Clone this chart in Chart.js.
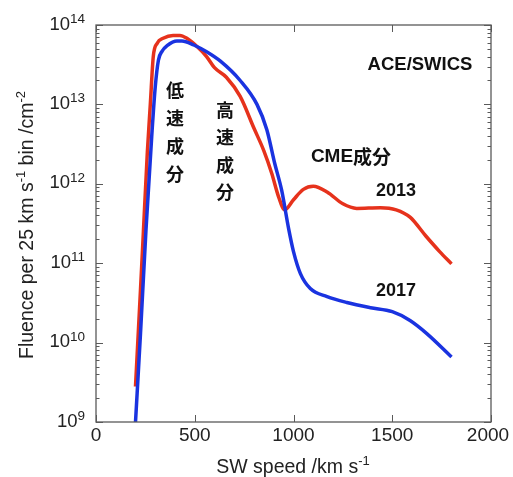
<!DOCTYPE html>
<html>
<head>
<meta charset="utf-8">
<script src="https://cdn.jsdelivr.net/npm/chart.js@4"></script>
<style>
  html, body { margin: 0; padding: 0; background: #fff; }
  #wrap { width: 513px; height: 477px; }
</style>
</head>
<body>
<div id="wrap"><canvas id="chart" width="513" height="477"></canvas></div>
<script>
// solar wind speed bins (km/s) and fluence per 25 km/s bin (/cm^2)
const speed2013 = [200, 225, 240, 260, 275, 290, 310, 340, 390, 425, 460, 510, 560, 600, 660, 730, 800, 850, 890, 925, 955, 1000, 1050, 1100, 1170, 1250, 1320, 1440, 1520, 1590, 1670, 1740, 1800];
const fluence2013 = [2.8e9, 4.5e10, 2.5e11, 2.5e12, 1.0e13, 4.0e13, 5.9e13, 6.8e13, 7.4e13, 7.4e13, 6.8e13, 5.4e13, 4.0e13, 2.9e13, 2.2e13, 1.26e13, 5.0e12, 2.6e12, 1.35e12, 6.8e11, 4.7e11, 6.3e11, 8.5e11, 9.3e11, 7.9e11, 5.6e11, 4.9e11, 5.0e11, 4.7e11, 3.8e11, 2.2e11, 1.4e11, 9.8e10];

const speed2017 = [200, 225, 253, 282, 300, 316, 335, 360, 410, 435, 495, 560, 630, 730, 815, 865, 905, 940, 975, 1000, 1035, 1085, 1170, 1270, 1390, 1500, 1590, 1675, 1800];
const fluence2017 = [1.0e9, 1.26e10, 2.6e11, 3.9e12, 1.66e13, 3.6e13, 4.7e13, 5.5e13, 6.3e13, 6.3e13, 5.6e13, 4.6e13, 3.5e13, 2.0e13, 1.0e13, 4.8e12, 1.8e12, 8.3e11, 2.75e11, 1.4e11, 7.4e10, 4.8e10, 3.8e10, 3.2e10, 2.75e10, 2.45e10, 1.9e10, 1.3e10, 6.6e9];

const xTicks = [0, 500, 1000, 1500, 2000];
const yExponents = [9, 10, 11, 12, 13, 14];

const FONT = '"Liberation Sans", Arial, sans-serif';
const CJK = '"Noto Sans CJK JP", "Noto Sans CJK SC", sans-serif';

function toPoints(xs, ys) {
  return xs.map((x, i) => ({ x: x, y: ys[i] }));
}

// text made of normal / superscript pieces
function richWidth(ctx, parts, size, supSize) {
  let w = 0;
  parts.forEach(p => {
    ctx.font = (p.sup ? supSize : size) + 'px ' + FONT;
    w += ctx.measureText(p.t).width;
  });
  return w;
}
function drawRich(ctx, parts, x, y, size, supSize, rise) {
  parts.forEach(p => {
    ctx.font = (p.sup ? supSize : size) + 'px ' + FONT;
    ctx.fillText(p.t, x, p.sup ? y - rise : y);
    x += ctx.measureText(p.t).width;
  });
}

const axesPlugin = {
  id: 'axesBox',
  afterDraw(chart) {
    const { ctx, chartArea: a, scales: { x, y } } = chart;
    ctx.save();
    ctx.strokeStyle = '#5a5a5a';
    ctx.lineWidth = 1.3;
    ctx.strokeRect(a.left, a.top, a.right - a.left, a.bottom - a.top);

    ctx.lineWidth = 1;
    ctx.beginPath();
    xTicks.forEach(v => {
      const px = Math.round(x.getPixelForValue(v)) + 0.5;
      ctx.moveTo(px, a.bottom); ctx.lineTo(px, a.bottom - 7);
      ctx.moveTo(px, a.top); ctx.lineTo(px, a.top + 7);
    });
    yExponents.forEach(e => {
      for (let m = 1; m <= 9; m++) {
        if (e === 14 && m > 1) break;
        const py = Math.round(y.getPixelForValue(m * Math.pow(10, e))) + 0.5;
        const len = m === 1 ? 7 : 3.5;
        ctx.moveTo(a.left, py); ctx.lineTo(a.left + len, py);
        ctx.moveTo(a.right, py); ctx.lineTo(a.right - len, py);
      }
    });
    ctx.stroke();

    ctx.fillStyle = '#222';
    ctx.textBaseline = 'alphabetic';
    // x tick labels (last one pulled in so it fits)
    ctx.font = '19px ' + FONT;
    ctx.textAlign = 'center';
    xTicks.forEach((v, i) => {
      const shift = i === xTicks.length - 1 ? -3 : 0;
      ctx.fillText(String(v), x.getPixelForValue(v) + shift, a.bottom + 19);
    });
    // y tick labels 10^n
    ctx.textAlign = 'left';
    yExponents.forEach(e => {
      const py = y.getPixelForValue(Math.pow(10, e));
      const parts = [{ t: '10' }, { t: String(e), sup: true }];
      const w = richWidth(ctx, parts, 18.5, 13.5);
      drawRich(ctx, parts, 85 - w, py + 4.5, 18.5, 13.5, 6.5);
    });

    // axis titles
    const xt = [{ t: 'SW speed /km s' }, { t: '-1', sup: true }];
    const xw = richWidth(ctx, xt, 19.5, 13);
    drawRich(ctx, xt, 293 - xw / 2, 473, 19.5, 13, 8);

    const yt = [{ t: 'Fluence per 25 km s' }, { t: '-1', sup: true }, { t: ' bin /cm' }, { t: '-2', sup: true }];
    const yw = richWidth(ctx, yt, 19.5, 13);
    ctx.save();
    ctx.translate(33, 225);
    ctx.rotate(-Math.PI / 2);
    drawRich(ctx, yt, -yw / 2, 0, 19.5, 13, 8);
    ctx.restore();

    // annotations
    ctx.fillStyle = '#111';
    ctx.textAlign = 'center';
    ctx.textBaseline = 'middle';
    ctx.font = 'bold 18.5px ' + FONT;
    ctx.fillText('ACE/SWICS', 420, 65);
    ctx.font = 'bold 18px ' + FONT;
    ctx.fillText('2013', 396, 191);
    ctx.fillText('2017', 396, 291);

    const cme = 'CME';
    ctx.textAlign = 'left';
    ctx.font = 'bold 19px ' + FONT;
    const cw = ctx.measureText(cme).width;
    ctx.font = 'bold 19px ' + CJK;
    const kw = ctx.measureText('成分').width;
    const sx = 351 - (cw + kw) / 2;
    ctx.font = 'bold 19px ' + FONT;
    ctx.fillText(cme, sx, 157);
    ctx.font = 'bold 19px ' + CJK;
    ctx.fillText('成分', sx + cw, 157);

    ctx.textAlign = 'center';
    ctx.font = 'bold 18px ' + CJK;
    ['低', '速', '成', '分'].forEach((c, i) => ctx.fillText(c, 175, 90 + i * 28));
    ['高', '速', '成', '分'].forEach((c, i) => ctx.fillText(c, 225, 110 + i * 27.5));
    ctx.restore();
  }
};

new Chart(document.getElementById('chart'), {
  type: 'line',
  data: {
    datasets: [
      {
        label: '2017',
        data: toPoints(speed2017, fluence2017),
        borderColor: '#1a33e0',
        borderWidth: 3.5,
        pointRadius: 0,
        cubicInterpolationMode: 'monotone',
        fill: false
      },
      {
        label: '2013',
        data: toPoints(speed2013, fluence2013),
        borderColor: '#e6321c',
        borderWidth: 3.5,
        pointRadius: 0,
        cubicInterpolationMode: 'monotone',
        fill: false
      }
    ]
  },
  options: {
    responsive: false,
    animation: false,
    layout: { padding: { top: 25, right: 22, left: 0, bottom: 0 } },
    plugins: { legend: { display: false }, tooltip: { enabled: false } },
    scales: {
      x: {
        type: 'linear', min: 0, max: 2000,
        grid: { display: false }, border: { display: false },
        ticks: { display: false },
        afterFit: s => { s.height = 55; }
      },
      y: {
        type: 'logarithmic', min: 1e9, max: 1e14,
        grid: { display: false }, border: { display: false },
        ticks: { display: false },
        afterFit: s => { s.width = 96; }
      }
    }
  },
  plugins: [axesPlugin]
});
</script>
</body>
</html>
